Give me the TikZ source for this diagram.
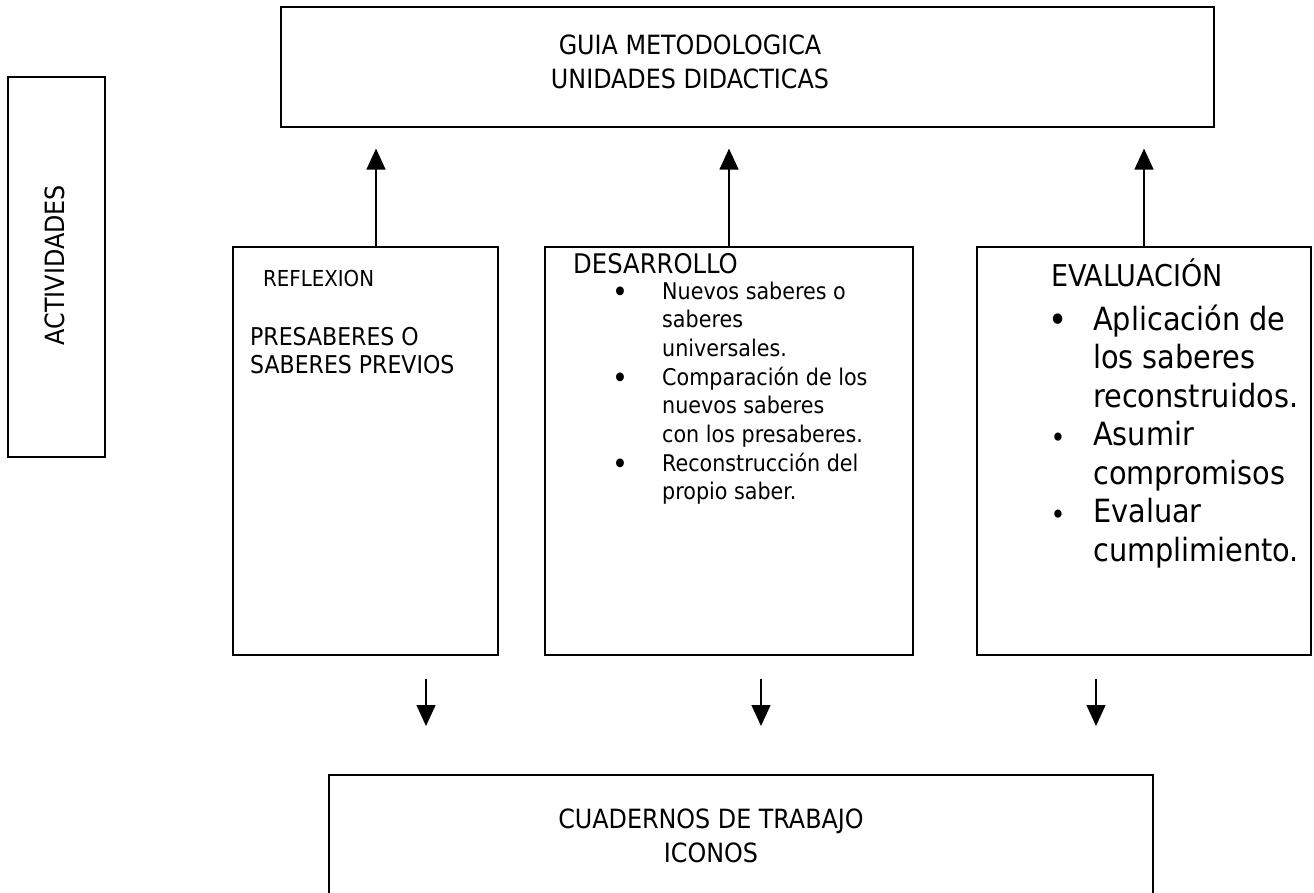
\documentclass[tikz,border=0pt]{standalone}
\usepackage{fontspec}
\setmainfont{DejaVu Sans Condensed}
\usetikzlibrary{arrows.meta}
\begin{document}
\begin{tikzpicture}[x=1pt,y=-1pt,
  box/.style={draw, line width=1.6pt, rectangle, inner sep=0pt, anchor=north west},
  arr/.style={line width=1.3pt, -{Triangle[length=21pt,width=19pt]}},
  big/.style={inner sep=0pt, font=\fontsize{26.5}{34}\selectfont},
  lbl/.style={anchor=base west, inner sep=0pt, font=\fontsize{27}{33}\selectfont},
  small/.style={anchor=base west, inner sep=0pt, align=left, font=\fontsize{23}{28.7}\selectfont},
  large/.style={anchor=base west, inner sep=0pt, align=left, font=\fontsize{32}{38.5}\selectfont},
  bul/.style={anchor=base, inner sep=0pt, font=\fontsize{30}{30}\selectfont},
]
\useasboundingbox (0,0) rectangle (1314,893);
\clip (0,0) rectangle (1314,893);

% boxes
\node[box, minimum width=933pt, minimum height=120pt] (top) at (280,6) {};
\node[box, minimum width=97pt, minimum height=380pt] (act) at (7,76) {};
\node[box, minimum width=265pt, minimum height=408pt] (b1) at (232,246) {};
\node[box, minimum width=368pt, minimum height=408pt] (b2) at (544,246) {};
\node[box, minimum width=334pt, minimum height=408pt] (b3) at (976,246) {};
\node[box, minimum width=824pt, minimum height=170pt] (bot) at (328,774) {};

% texts (multi-line nodes: base = baseline of last line)
\node[big, align=center, anchor=base] (topt) at (690,89) {GUIA METODOLOGICA\\UNIDADES DIDACTICAS};
\node[big, rotate=90] (actt) at (55,265) {ACTIVIDADES};

\node[anchor=base west, inner sep=0pt, font=\fontsize{22}{26}\selectfont] (r1) at (263,287) {REFLEXION};
\node[anchor=base west, inner sep=0pt, align=left, font=\fontsize{24.5}{28}\selectfont] (r2) at (250,373) {PRESABERES O\\SABERES PREVIOS};

\node[lbl] (d0) at (573,273) {DESARROLLO};
\node[small] (d1) at (662,356.4) {Nuevos saberes o\\saberes\\universales.};
\node[small] (d2) at (662,442.5) {Comparación de los\\nuevos saberes\\con los presaberes.};
\node[small] (d3) at (662,499.9) {Reconstrucción del\\propio saber.};
\node[bul] (db1) at (620,302) {•};
\node[bul] (db2) at (620,388.1) {•};
\node[bul] (db3) at (620,474.2) {•};

\node[lbl, font=\fontsize{30}{33}\selectfont] (e0) at (1051,287) {EVALUACIÓN};
\node[large] (e1) at (1093,407) {Aplicación de\\los saberes\\reconstruidos.};
\node[large] (e2) at (1093,484) {Asumir\\compromisos};
\node[large] (e3) at (1093,561) {Evaluar\\cumplimiento.};
\node[bul, font=\fontsize{36}{36}\selectfont] (eb1) at (1058,332) {•};
\node[bul, font=\fontsize{28}{28}\selectfont] (eb2) at (1058,447.5) {•};
\node[bul, font=\fontsize{28}{28}\selectfont] (eb3) at (1058,524.5) {•};

\node[big, align=center, anchor=base] (bott) at (711,862) {CUADERNOS DE TRABAJO\\ICONOS};

% connectors
\coordinate (u1) at (376,0);
\coordinate (u2) at (729,0);
\coordinate (u3) at (1144,0);
\draw[arr, shorten >=21pt] (u1 |- b1.north) -- (u1 |- top.south);
\draw[arr, shorten >=21pt] (u2 |- b2.north) -- (u2 |- top.south);
\draw[arr, shorten >=21pt] (u3 |- b3.north) -- (u3 |- top.south);

\coordinate (w1) at (426,0);
\coordinate (w2) at (761,0);
\coordinate (w3) at (1096,0);
\draw[arr, shorten <=23pt, shorten >=48pt] (w1 |- b1.south) -- (w1 |- bot.north);
\draw[arr, shorten <=23pt, shorten >=48pt] (w2 |- b2.south) -- (w2 |- bot.north);
\draw[arr, shorten <=23pt, shorten >=48pt] (w3 |- b3.south) -- (w3 |- bot.north);
\end{tikzpicture}
\end{document}
